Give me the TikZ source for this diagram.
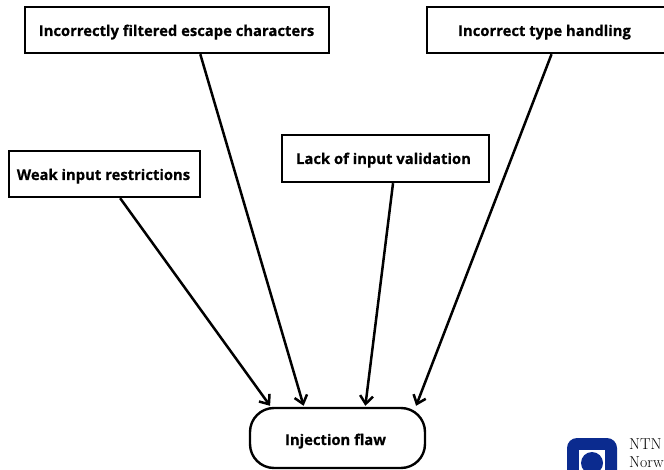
\documentclass[tikz,border=0pt]{standalone}
\usepackage{fontspec}
\usetikzlibrary{arrows.meta,calc}
\newfontfamily\boxfont[FakeBold=0.5]{Open Sans Bold}
\definecolor{ntnublue}{HTML}{0B2B8F}
\newcommand{\lowered}[2]{\raisebox{-#1pt}[0pt][0pt]{#2}}
\tikzset{
  boxnode/.style={draw=black,line width=2.4pt,fill=white,rectangle,inner sep=0pt,font=\boxfont\fontsize{14.8}{17}\selectfont,text=black},
  flawnode/.style={boxnode,rounded corners=24pt},
  flow/.style={draw=black,line width=2.5pt,-{Straight Barb[length=8pt,width=13pt,line width=2.5pt]}},
  logotext/.style={font=\fontsize{15.8}{16}\selectfont,anchor=base west,inner sep=0pt,text=black}
}
\begin{document}
\begin{tikzpicture}[x=1pt,y=-1pt]
\useasboundingbox (0,0) rectangle (664,470);
\node[boxnode,minimum width=304pt,minimum height=46pt] (esc) at (177,30) {\lowered{6}{\hspace*{-1pt}Incorrectly filtered escape characters}};
\node[boxnode,minimum width=242pt,minimum height=46pt] (typ) at (548,30) {\lowered{6}{\hspace*{-7pt}Incorrect type handling}};
\node[boxnode,minimum width=191pt,minimum height=46pt] (weak) at (104.5,174) {\lowered{6}{\hspace*{-2pt}Weak input restrictions}};
\node[boxnode,minimum width=207pt,minimum height=47pt] (lack) at (385.5,158.5) {\lowered{5.5}{\hspace*{-4pt}Lack of input validation}};
\node[flawnode,minimum width=175pt,minimum height=60pt] (flaw) at (337.5,438) {\lowered{7}{\hspace*{-4pt}Injection flaw}};
\draw[flow] ($(weak.south west)!0.581!(weak.south east)$) -- ($(flaw.north west)!0.12!(flaw.north east)+(0,-1)$);
\draw[flow] ($(esc.south west)!0.576!(esc.south east)$) -- ($(flaw.north west)!0.309!(flaw.north east)+(0,-1)$);
\draw[flow] ($(lack.south west)!0.536!(lack.south east)$) -- ($(flaw.north west)!0.657!(flaw.north east)+(0,-1)$);
\draw[flow] ($(typ.south west)!0.5145!(typ.south east)$) -- ($(flaw.north west)!0.943!(flaw.north east)+(0,-1)$);
\begin{scope}
\clip (560,430) rectangle (664,470);
\fill[ntnublue,rounded corners=10pt] (567,438) rectangle (617,490);
\fill[white] (579,450) rectangle (605,480);
\fill[ntnublue] (592,463) circle (11);
\end{scope}
\node[logotext] (ntnu) at (629,449) {NTN};
\node[logotext] (norw) at (629,467) {Norw};
\end{tikzpicture}
\end{document}
